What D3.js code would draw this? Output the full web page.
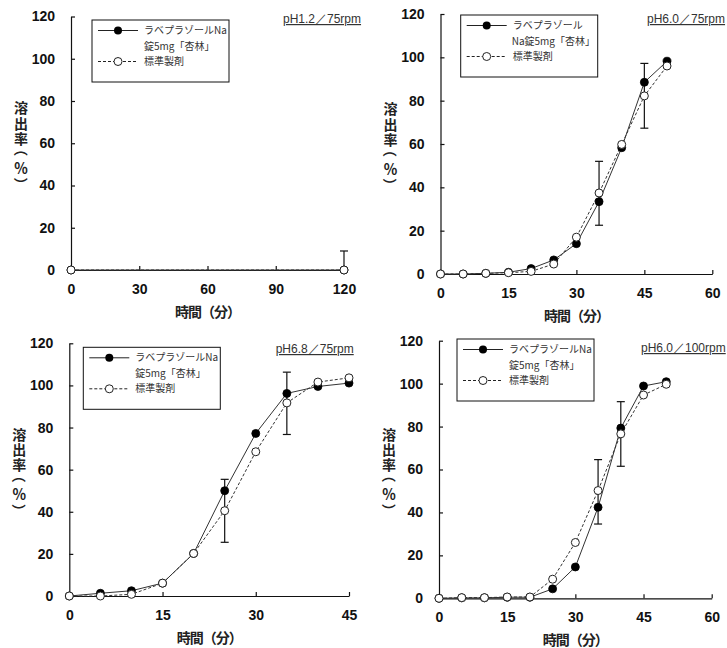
<!DOCTYPE html>
<html>
<head>
<meta charset="utf-8">
<script src="https://cdn.jsdelivr.net/npm/d3@7"></script>
<style>
  html, body { margin: 0; padding: 0; background: #fff; }
  svg { display: block; }
  .tick text { font-family: 'Liberation Sans', Arial, sans-serif; font-weight: bold; font-size: 14px; fill: #111; }
</style>
</head>
<body>
<div id="chart"></div>
<script>
// pH1.2 / 75rpm
const times1 = [0, 120];
const test1 = [0, 0];
const ref1 = [0, 0];
const errTimes1 = [120];
const errLo1 = [0];
const errHi1 = [9];

// pH6.0 / 75rpm
const times2 = [0, 5, 10, 15, 20, 25, 30, 35, 40, 45, 50];
const test2 = [0, 0, 0.3, 0.8, 2.5, 6.5, 14, 33.4, 58.3, 88.5, 98.2];
const ref2 = [0, 0, 0.3, 0.6, 1.2, 4.6, 17, 37.4, 59.8, 82.2, 96];
const errTimes2 = [35, 45];
const errLo2 = [22.5, 67.3];
const errHi2 = [52, 97.2];

// pH6.8 / 75rpm
const times3 = [0, 5, 10, 15, 20, 25, 30, 35, 40, 45];
const test3 = [0, 1.3, 2.5, 6.1, 20.2, 50, 77.2, 96.2, 99.5, 101.1];
const ref3 = [0, 0, 0.8, 6.1, 20.2, 40.5, 68.5, 91.7, 101.6, 103.6];
const errTimes3 = [25, 35];
const errLo3 = [25.5, 76.7];
const errHi3 = [55.4, 106.3];

// pH6.0 / 100rpm
const times4 = [0, 5, 10, 15, 20, 25, 30, 35, 40, 45, 50];
const test4 = [0, 0.2, 0.2, 0.5, 0.5, 4.4, 14.6, 42.4, 79.3, 98.9, 100.9];
const ref4 = [0, 0.3, 0.3, 0.6, 0.6, 8.9, 26, 50.2, 76.6, 94.7, 99.7];
const errTimes4 = [35, 40];
const errLo4 = [34.6, 61.5];
const errHi4 = [64.6, 91.6];

const yTicks = [0, 20, 40, 60, 80, 100, 120];
const xTicks1 = [0, 30, 60, 90, 120];
const xTicks2 = [0, 15, 30, 45, 60];
const xTicks3 = [0, 15, 30, 45];

const titles = ['pH1.2／75rpm', 'pH6.0／75rpm', 'pH6.8／75rpm', 'pH6.0／100rpm'];
const testLabelA = ['ラベプラゾールNa', '錠5mg「杏林」'];
const testLabelB = ['ラベプラゾール', 'Na錠5mg「杏林」'];
const refLabel = '標準製剤';
const xLabel = '時間（分）';
// vertical label, one glyph per row; parentheses are turned a quarter turn
const yLabelChars = ['溶', '出', '率', '（', '％', '）'];
const yLabelOffsets = [-35, -19.5, -4.5, 10, 24.5, 37];

const panels = [
  { times: times1, test: test1, ref: ref1, errT: errTimes1, errLo: errLo1, errHi: errHi1, xTicks: xTicks1, testLabel: testLabelA, title: titles[0],
    box: { l: 71, r: 344, t: 16.5, b: 270 }, legend: [92, 20], titlePos: [283, 23] },
  { times: times2, test: test2, ref: ref2, errT: errTimes2, errLo: errLo2, errHi: errHi2, xTicks: xTicks2, testLabel: testLabelB, title: titles[1],
    box: { l: 440.5, r: 712.3, t: 14, b: 274 }, legend: [460.7, 15], titlePos: [647, 23] },
  { times: times3, test: test3, ref: ref3, errT: errTimes3, errLo: errLo3, errHi: errHi3, xTicks: xTicks3, testLabel: testLabelA, title: titles[2],
    box: { l: 69.3, r: 349, t: 343.3, b: 596 }, legend: [83.3, 347.3], titlePos: [275.7, 353] },
  { times: times4, test: test4, ref: ref4, errT: errTimes4, errLo: errLo4, errHi: errHi4, xTicks: xTicks2, testLabel: testLabelA, title: titles[3],
    box: { l: 439, r: 711.7, t: 340.7, b: 598.3 }, legend: [457, 339], titlePos: [641, 352] },
];

const svg = d3.select('#chart').append('svg')
  .attr('width', 727)
  .attr('height', 648);

const cjk = "'Noto Sans CJK JP', 'Noto Sans', sans-serif";

function drawPanel(p) {
  const g = svg.append('g');
  const { l, r, t, b } = p.box;

  const x = d3.scaleLinear()
    .domain(d3.extent(p.xTicks))
    .range([l, r]);
  const y = d3.scaleLinear()
    .domain([0, 120])
    .range([b, t]);

  // axes, ticks pointing inward
  const xAxis = g.append('g')
    .attr('transform', `translate(0,${b})`)
    .call(d3.axisBottom(x).tickValues(p.xTicks).tickSize(-4).tickSizeOuter(0).tickPadding(14));
  const yAxis = g.append('g')
    .attr('transform', `translate(${l},0)`)
    .call(d3.axisLeft(y).tickValues(yTicks).tickSize(-4).tickSizeOuter(0).tickPadding(16));
  [xAxis, yAxis].forEach((a) => {
    a.selectAll('path, line').attr('stroke', '#111').attr('stroke-width', 1.2);
  });

  // error bars (range around reference)
  const bars = p.errT.map((tm, i) => ({ t: tm, lo: p.errLo[i], hi: p.errHi[i] }));
  const eb = g.append('g').attr('stroke', '#111').attr('stroke-width', 1.2);
  bars.forEach((d) => {
    eb.append('line').attr('x1', x(d.t)).attr('x2', x(d.t)).attr('y1', y(d.lo)).attr('y2', y(d.hi));
    eb.append('line').attr('x1', x(d.t) - 4).attr('x2', x(d.t) + 4).attr('y1', y(d.hi)).attr('y2', y(d.hi));
    if (d.lo > 0) {
      eb.append('line').attr('x1', x(d.t) - 4).attr('x2', x(d.t) + 4).attr('y1', y(d.lo)).attr('y2', y(d.lo));
    }
  });

  const testPts = p.times.map((tm, i) => [tm, p.test[i]]);
  const refPts = p.times.map((tm, i) => [tm, p.ref[i]]);
  const line = d3.line().x((d) => x(d[0])).y((d) => y(d[1]));

  g.append('path').datum(testPts)
    .attr('fill', 'none').attr('stroke', '#333').attr('stroke-width', 1).attr('d', line);
  g.append('path').datum(refPts)
    .attr('fill', 'none').attr('stroke', '#333').attr('stroke-width', 1)
    .attr('stroke-dasharray', '3,2').attr('d', line);

  g.selectAll('.dot-test').data(testPts).enter().append('circle')
    .attr('cx', (d) => x(d[0])).attr('cy', (d) => y(d[1])).attr('r', 4)
    .attr('fill', '#000').attr('stroke', '#000').attr('stroke-width', 0.8);
  g.selectAll('.dot-ref').data(refPts).enter().append('circle')
    .attr('cx', (d) => x(d[0])).attr('cy', (d) => y(d[1])).attr('r', 4)
    .attr('fill', '#fff').attr('stroke', '#222').attr('stroke-width', 1);

  // legend
  const [lx, ly] = p.legend;
  const lg = g.append('g').attr('transform', `translate(${lx},${ly})`);
  lg.append('rect').attr('width', 137).attr('height', 62)
    .attr('fill', '#fff').attr('stroke', '#111').attr('stroke-width', 1);
  lg.append('line').attr('x1', 6).attr('x2', 46).attr('y1', 10.5).attr('y2', 10.5)
    .attr('stroke', '#222').attr('stroke-width', 1);
  lg.append('circle').attr('cx', 26).attr('cy', 10.5).attr('r', 4).attr('fill', '#000');
  lg.append('line').attr('x1', 6).attr('x2', 46).attr('y1', 41.5).attr('y2', 41.5)
    .attr('stroke', '#222').attr('stroke-width', 1).attr('stroke-dasharray', '3,2');
  lg.append('circle').attr('cx', 26).attr('cy', 41.5).attr('r', 4)
    .attr('fill', '#fff').attr('stroke', '#222').attr('stroke-width', 1);
  const lt = lg.append('g').style('font-family', cjk).style('font-size', '10px').attr('fill', '#333');
  p.testLabel.forEach((s, i) => {
    lt.append('text').attr('x', i === 1 && p.testLabel === testLabelB ? 51 : 52)
      .attr('y', 10.5 + i * 15.5).attr('dy', '0.36em').text(s);
  });
  lt.append('text').attr('x', 52).attr('y', 41.5).attr('dy', '0.36em').text(refLabel);

  // condition title, underlined
  g.append('text')
    .attr('x', p.titlePos[0]).attr('y', p.titlePos[1])
    .style('font-family', "'Liberation Sans', Arial, sans-serif")
    .style('font-size', '12px')
    .style('text-decoration', 'underline')
    .attr('fill', '#333')
    .text(p.title);

  // axis titles
  g.append('text')
    .attr('x', (l + r) / 2).attr('y', b + 47)
    .attr('text-anchor', 'middle')
    .style('font-family', cjk).style('font-size', '14px').style('font-weight', 'bold')
    .style('letter-spacing', '-1px')
    .attr('fill', '#222')
    .text(xLabel);

  const yl = g.append('g')
    .style('font-family', cjk).style('font-size', '14px').style('font-weight', 'bold')
    .attr('fill', '#222');
  yLabelChars.forEach((c, i) => {
    const cx = l - 50;
    const cy = (t + b) / 2 + yLabelOffsets[i];
    const isParen = c === '（' || c === '）';
    yl.append('text')
      .attr('x', cx)
      .attr('y', cy)
      .attr('dy', '0.36em')
      .attr('text-anchor', isParen ? (c === '（' ? 'end' : 'start') : 'middle')
      .attr('dx', isParen ? (c === '（' ? 3 : -3) : 0)
      .attr('transform', isParen ? `rotate(90,${cx},${cy})` : null)
      .text(c);
  });
}

panels.forEach(drawPanel);
</script>
</body>
</html>
